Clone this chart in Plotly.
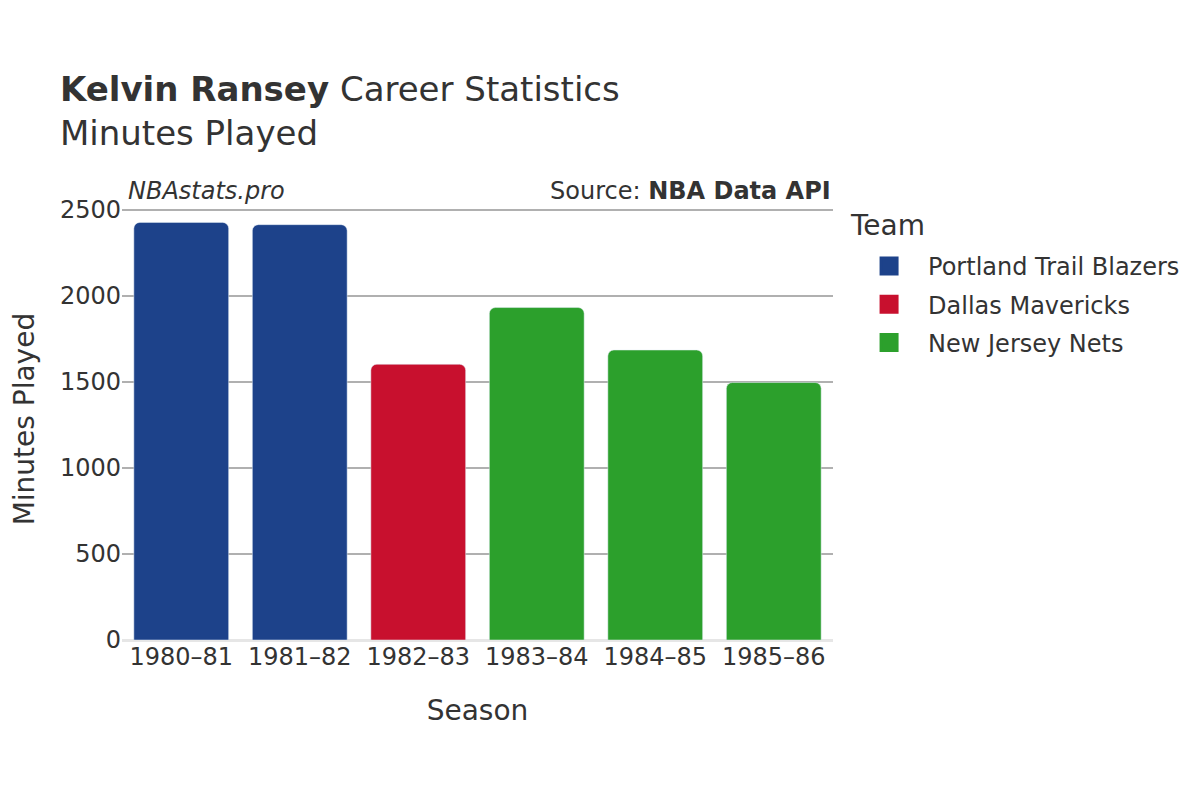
import plotly.graph_objects as go

seasons = ["1980–81", "1981–82", "1982–83", "1983–84", "1984–85", "1985–86"]
teams = ["Portland Trail Blazers", "Portland Trail Blazers", "Dallas Mavericks",
         "New Jersey Nets", "New Jersey Nets", "New Jersey Nets"]
minutes = [2428, 2415, 1603, 1933, 1686, 1497]
team_order = ["Portland Trail Blazers", "Dallas Mavericks", "New Jersey Nets"]
team_colors = {"Portland Trail Blazers": "#1D428A",
               "Dallas Mavericks": "#C8102E",
               "New Jersey Nets": "#2CA02C"}

fig = go.Figure()
for t in team_order:
    xs = [s for s, tm in zip(seasons, teams) if tm == t]
    ys = [m for m, tm in zip(minutes, teams) if tm == t]
    fig.add_trace(go.Bar(x=xs, y=ys, name=t, marker_color=team_colors[t],
                         showlegend=False, legendgroup=t))
    # legend swatch
    fig.add_trace(go.Scatter(x=[None], y=[None], mode="markers", name=t,
                             legendgroup=t,
                             marker=dict(symbol="square", size=19,
                                         color=team_colors[t],
                                         line=dict(width=3, color=team_colors[t]))))

fig.update_layout(
    width=1200, height=800,
    font=dict(family="DejaVu Sans", color="#333333", size=24),
    paper_bgcolor="white", plot_bgcolor="white",
    title=dict(text="<b>Kelvin Ransey</b> Career Statistics<br>Minutes Played",
               x=0.0433, xanchor="left", y=0.884, yanchor="bottom",
               font=dict(size=34)),
    margin=dict(l=114, r=375, t=201, b=168),
    bargap=0.2,
    barcornerradius=6,
    legend=dict(font=dict(size=24), x=1.024, y=0.919, yanchor="top",
                itemsizing="trace", itemwidth=68, tracegroupgap=4),
    xaxis=dict(title=dict(text="Season", font=dict(size=28), standoff=30),
               categoryorder="array", categoryarray=seasons,
               tickfont=dict(size=24), showline=False),
    yaxis=dict(automargin=False,
               range=[0, 2506], tickvals=[0, 500, 1000, 1500, 2000, 2500],
               gridcolor="#b0b0b0", gridwidth=1.5,
               tickfont=dict(size=24), zeroline=True, zerolinecolor="#e6e6e6",
               zerolinewidth=3, ticks=""),
    annotations=[
        dict(text="<i>NBAstats.pro</i>", xref="paper", yref="paper",
             x=0.0056, y=1.0, xanchor="left", yanchor="bottom", showarrow=False,
             yshift=2, font=dict(size=24)),
        dict(text="Source: <b>NBA Data API</b>", xref="paper", yref="paper",
             x=1, y=1.0, xanchor="right", yanchor="bottom", showarrow=False,
             yshift=2, font=dict(size=24)),
        dict(text="Team", xref="paper", yref="paper",
             x=1.021, y=0.9606, xanchor="left", yanchor="middle",
             showarrow=False, font=dict(size=28)),
        dict(text="Minutes Played", xref="paper", yref="paper",
             x=-0.1378, y=0.512, xanchor="center", yanchor="middle",
             textangle=-90, showarrow=False, font=dict(size=28)),
    ],
)

fig.write_html("out.html")
